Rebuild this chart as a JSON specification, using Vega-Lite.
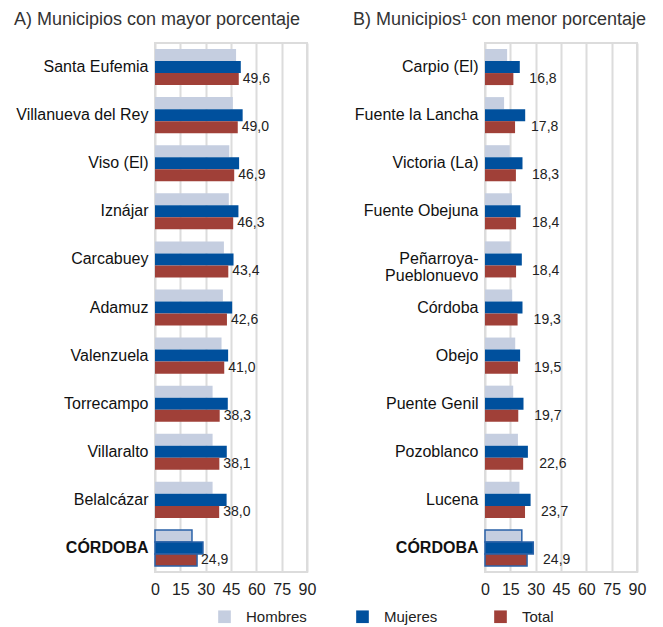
{
  "$schema": "https://vega.github.io/schema/vega-lite/v6.json",
  "padding": {"left": 13, "top": 10, "right": 5, "bottom": 5},
  "background": "white",
  "config": {
    "locale": {"number": {"decimal": ",", "thousands": ".", "grouping": [3], "currency": ["", " €"]}},
    "font": "Liberation Sans",
    "view": {"stroke": "#dcdcdc", "strokeWidth": 2},
    "axisX": {"grid": true, "gridColor": "#dcdcdc", "gridWidth": 2, "ticks": false, "domain": false, "labelFontSize": 16, "labelColor": "#222", "labelPadding": 9, "labelFlush": false, "title": null, "labelFont": "Liberation Sans"},
    "axisY": {"grid": false, "ticks": false, "domain": false, "labelFontSize": 16, "labelColor": "#111", "labelPadding": 7, "title": null, "labelLineHeight": 17, "labelFont": "Liberation Sans"},
    "title": {"fontSize": 18, "fontWeight": "normal", "color": "#333", "anchor": "start", "frame": "group", "font": "Liberation Sans"}
  },
  "data": {"values": [
    {"panel": "A", "municipio": "Santa Eufemia", "serie": "Hombres", "valor": 48.0},
    {"panel": "A", "municipio": "Santa Eufemia", "serie": "Mujeres", "valor": 50.8},
    {"panel": "A", "municipio": "Santa Eufemia", "serie": "Total", "valor": 49.6},
    {"panel": "A", "municipio": "Villanueva del Rey", "serie": "Hombres", "valor": 46.1},
    {"panel": "A", "municipio": "Villanueva del Rey", "serie": "Mujeres", "valor": 51.9},
    {"panel": "A", "municipio": "Villanueva del Rey", "serie": "Total", "valor": 49.0},
    {"panel": "A", "municipio": "Viso (El)", "serie": "Hombres", "valor": 44.0},
    {"panel": "A", "municipio": "Viso (El)", "serie": "Mujeres", "valor": 49.8},
    {"panel": "A", "municipio": "Viso (El)", "serie": "Total", "valor": 46.9},
    {"panel": "A", "municipio": "Iznájar", "serie": "Hombres", "valor": 43.7},
    {"panel": "A", "municipio": "Iznájar", "serie": "Mujeres", "valor": 49.4},
    {"panel": "A", "municipio": "Iznájar", "serie": "Total", "valor": 46.3},
    {"panel": "A", "municipio": "Carcabuey", "serie": "Hombres", "valor": 40.8},
    {"panel": "A", "municipio": "Carcabuey", "serie": "Mujeres", "valor": 46.5},
    {"panel": "A", "municipio": "Carcabuey", "serie": "Total", "valor": 43.4},
    {"panel": "A", "municipio": "Adamuz", "serie": "Hombres", "valor": 40.2},
    {"panel": "A", "municipio": "Adamuz", "serie": "Mujeres", "valor": 45.7},
    {"panel": "A", "municipio": "Adamuz", "serie": "Total", "valor": 42.6},
    {"panel": "A", "municipio": "Valenzuela", "serie": "Hombres", "valor": 39.4},
    {"panel": "A", "municipio": "Valenzuela", "serie": "Mujeres", "valor": 43.3},
    {"panel": "A", "municipio": "Valenzuela", "serie": "Total", "valor": 41.0},
    {"panel": "A", "municipio": "Torrecampo", "serie": "Hombres", "valor": 34.1},
    {"panel": "A", "municipio": "Torrecampo", "serie": "Mujeres", "valor": 43.1},
    {"panel": "A", "municipio": "Torrecampo", "serie": "Total", "valor": 38.3},
    {"panel": "A", "municipio": "Villaralto", "serie": "Hombres", "valor": 34.1},
    {"panel": "A", "municipio": "Villaralto", "serie": "Mujeres", "valor": 42.5},
    {"panel": "A", "municipio": "Villaralto", "serie": "Total", "valor": 38.1},
    {"panel": "A", "municipio": "Belalcázar", "serie": "Hombres", "valor": 34.1},
    {"panel": "A", "municipio": "Belalcázar", "serie": "Mujeres", "valor": 42.4},
    {"panel": "A", "municipio": "Belalcázar", "serie": "Total", "valor": 38.0},
    {"panel": "A", "municipio": "CÓRDOBA", "serie": "Hombres", "valor": 21.9},
    {"panel": "A", "municipio": "CÓRDOBA", "serie": "Mujeres", "valor": 28.4},
    {"panel": "A", "municipio": "CÓRDOBA", "serie": "Total", "valor": 24.9},
    {"panel": "B", "municipio": "Carpio (El)", "serie": "Hombres", "valor": 13.1},
    {"panel": "B", "municipio": "Carpio (El)", "serie": "Mujeres", "valor": 20.6},
    {"panel": "B", "municipio": "Carpio (El)", "serie": "Total", "valor": 16.8},
    {"panel": "B", "municipio": "Fuente la Lancha", "serie": "Hombres", "valor": 11.3},
    {"panel": "B", "municipio": "Fuente la Lancha", "serie": "Mujeres", "valor": 23.8},
    {"panel": "B", "municipio": "Fuente la Lancha", "serie": "Total", "valor": 17.8},
    {"panel": "B", "municipio": "Victoria (La)", "serie": "Hombres", "valor": 14.7},
    {"panel": "B", "municipio": "Victoria (La)", "serie": "Mujeres", "valor": 22.2},
    {"panel": "B", "municipio": "Victoria (La)", "serie": "Total", "valor": 18.3},
    {"panel": "B", "municipio": "Fuente Obejuna", "serie": "Hombres", "valor": 15.9},
    {"panel": "B", "municipio": "Fuente Obejuna", "serie": "Mujeres", "valor": 21.0},
    {"panel": "B", "municipio": "Fuente Obejuna", "serie": "Total", "valor": 18.4},
    {"panel": "B", "municipio": "Peñarroya-Pueblonuevo", "serie": "Hombres", "valor": 15.1},
    {"panel": "B", "municipio": "Peñarroya-Pueblonuevo", "serie": "Mujeres", "valor": 21.8},
    {"panel": "B", "municipio": "Peñarroya-Pueblonuevo", "serie": "Total", "valor": 18.4},
    {"panel": "B", "municipio": "Córdoba", "serie": "Hombres", "valor": 16.1},
    {"panel": "B", "municipio": "Córdoba", "serie": "Mujeres", "valor": 22.2},
    {"panel": "B", "municipio": "Córdoba", "serie": "Total", "valor": 19.3},
    {"panel": "B", "municipio": "Obejo", "serie": "Hombres", "valor": 17.9},
    {"panel": "B", "municipio": "Obejo", "serie": "Mujeres", "valor": 20.8},
    {"panel": "B", "municipio": "Obejo", "serie": "Total", "valor": 19.5},
    {"panel": "B", "municipio": "Puente Genil", "serie": "Hombres", "valor": 16.7},
    {"panel": "B", "municipio": "Puente Genil", "serie": "Mujeres", "valor": 22.8},
    {"panel": "B", "municipio": "Puente Genil", "serie": "Total", "valor": 19.7},
    {"panel": "B", "municipio": "Pozoblanco", "serie": "Hombres", "valor": 19.5},
    {"panel": "B", "municipio": "Pozoblanco", "serie": "Mujeres", "valor": 25.4},
    {"panel": "B", "municipio": "Pozoblanco", "serie": "Total", "valor": 22.6},
    {"panel": "B", "municipio": "Lucena", "serie": "Hombres", "valor": 20.4},
    {"panel": "B", "municipio": "Lucena", "serie": "Mujeres", "valor": 27.0},
    {"panel": "B", "municipio": "Lucena", "serie": "Total", "valor": 23.7},
    {"panel": "B", "municipio": "CÓRDOBA", "serie": "Hombres", "valor": 21.8},
    {"panel": "B", "municipio": "CÓRDOBA", "serie": "Mujeres", "valor": 28.6},
    {"panel": "B", "municipio": "CÓRDOBA", "serie": "Total", "valor": 24.9}
  ]},
  "spacing": 178,
  "bounds": "flush",
  "resolve": {"scale": {"y": "independent"}},
  "hconcat": [
    {
      "width": 152,
      "height": 529,
      "title": {"text": "A) Municipios con mayor porcentaje", "dx": -141, "offset": 14},
      "transform": [{"filter": "datum.panel == 'A'"}],
      "encoding": {
        "y": {"field": "municipio", "type": "nominal", "sort": null,
              "scale": {"paddingInner": 0.25, "paddingOuter": 0.125},
              "axis": {"labelFontWeight": {"condition": {"test": "datum.value == 'CÓRDOBA'", "value": "bold"}, "value": "normal"}}},
        "yOffset": {"field": "serie", "type": "nominal", "scale": {"domain": ["Hombres", "Mujeres", "Total"]}},
        "x": {"field": "valor", "type": "quantitative", "scale": {"domain": [0, 90]}, "axis": {"values": [0, 15, 30, 45, 60, 75, 90]}}
      },
      "layer": [
        {
          "mark": {"type": "bar", "stroke": "#2a62a8"},
          "encoding": {
            "color": {"field": "serie", "type": "nominal",
                      "scale": {"domain": ["Hombres", "Mujeres", "Total"], "range": ["#c5cee0", "#00509d", "#a04038"]},
                      "legend": {"orient": "none", "legendX": 62, "legendY": 566, "direction": "horizontal", "title": null, "symbolType": "square", "symbolSize": 160, "symbolStrokeWidth": 0, "labelFontSize": 15, "labelColor": "#222", "columnPadding": 48, "labelOffset": 14, "padding": 0, "gridAlign": "all"}},
            "strokeWidth": {"condition": {"test": "datum.municipio == 'CÓRDOBA'", "value": 1.5}, "value": 0}
          }
        },
        {
          "transform": [{"filter": "datum.serie == 'Total'"}],
          "mark": {"type": "text", "align": "left", "baseline": "middle", "dx": 4, "fontSize": 14, "color": "#222"},
          "encoding": {"text": {"field": "valor", "type": "quantitative", "format": ".1f"}}
        }
      ]
    },
    {
      "width": 152,
      "height": 529,
      "title": {"text": "B) Municipios¹ con menor porcentaje", "dx": -132, "offset": 14},
      "transform": [{"filter": "datum.panel == 'B'"}],
      "encoding": {
        "y": {"field": "municipio", "type": "nominal", "sort": null,
              "scale": {"paddingInner": 0.25, "paddingOuter": 0.125},
              "axis": {"labelExpr": "datum.value == 'Peñarroya-Pueblonuevo' ? ['Peñarroya-', 'Pueblonuevo'] : datum.value",
                       "labelFontWeight": {"condition": {"test": "datum.value == 'CÓRDOBA'", "value": "bold"}, "value": "normal"}}},
        "yOffset": {"field": "serie", "type": "nominal", "scale": {"domain": ["Hombres", "Mujeres", "Total"]}},
        "x": {"field": "valor", "type": "quantitative", "scale": {"domain": [0, 90]}, "axis": {"values": [0, 15, 30, 45, 60, 75, 90]}}
      },
      "layer": [
        {
          "mark": {"type": "bar", "stroke": "#2a62a8"},
          "encoding": {
            "color": {"field": "serie", "type": "nominal",
                      "scale": {"domain": ["Hombres", "Mujeres", "Total"], "range": ["#c5cee0", "#00509d", "#a04038"]}},
            "strokeWidth": {"condition": {"test": "datum.municipio == 'CÓRDOBA'", "value": 1.5}, "value": 0}
          }
        },
        {
          "transform": [{"filter": "datum.serie == 'Total'"}],
          "mark": {"type": "text", "align": "left", "baseline": "middle", "dx": 16, "fontSize": 14, "color": "#222"},
          "encoding": {"text": {"field": "valor", "type": "quantitative", "format": ".1f"}}
        }
      ]
    }
  ]
}
